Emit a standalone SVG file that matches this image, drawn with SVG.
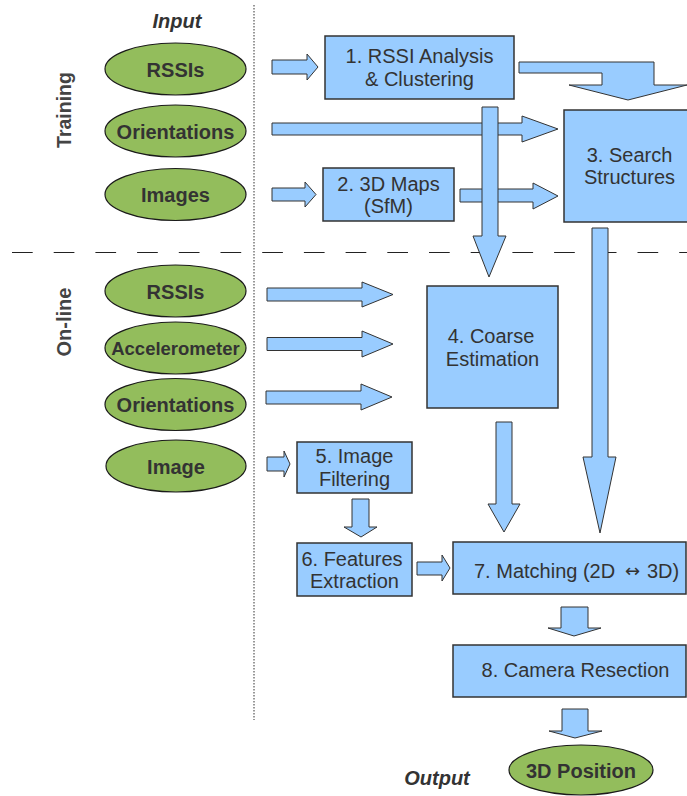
<svg xmlns="http://www.w3.org/2000/svg" width="687" height="796" viewBox="0 0 687 796">
  <style>
    .box { fill: #99ccff; stroke: #333333; stroke-width: 1.5; }
    .arr { fill: #99ccff; stroke: #333333; stroke-width: 1; stroke-linejoin: miter; }
    .ell { fill: #93bd5c; stroke: #1a1a1a; stroke-width: 1.2; }
    .lbl { font-family: "Liberation Sans", Arial, sans-serif; font-size: 20px; fill: #333333; text-anchor: middle; }
    .in { font-family: "Liberation Sans", Arial, sans-serif; font-size: 20px; font-weight: bold; fill: #333333; text-anchor: middle; }
    .hdr { font-family: "Liberation Sans", Arial, sans-serif; font-size: 20px; font-weight: bold; font-style: italic; fill: #333333; text-anchor: middle; }
    .side { font-family: "Liberation Sans", Arial, sans-serif; font-size: 20px; font-weight: bold; fill: #444444; text-anchor: middle; }
  </style>

  <rect width="687" height="796" fill="#ffffff"/>

  <!-- section separators -->
  <g id="separators">
    <line x1="254" y1="5" x2="254" y2="720" stroke="#777777" stroke-width="1.5" stroke-dasharray="1.5,1.5"/>
    <line x1="12" y1="252.5" x2="687" y2="252.5" stroke="#222222" stroke-width="1.2" stroke-dasharray="20.7,21"/>
  </g>

  <!-- headings -->
  <g id="headings">
    <text class="hdr" x="177" y="28">Input</text>
    <text class="hdr" x="437" y="785">Output</text>
    <text class="side" transform="translate(71,110) rotate(-90)" style="font-size:19.5px">Training</text>
    <text class="side" transform="translate(71,322) rotate(-90)">On-line</text>
  </g>

  <!-- connectors -->
  <g id="connectors">
    <path class="arr" d="M272,60 H307 V54 L318,67 L307,80 V74 H272 Z"/>
    <path class="arr" d="M272,123 H522 V116 L558,129 L522,142 V135 H272 Z"/>
    <path class="arr" d="M272,188 H305 V182 L316,194.5 L305,207 V201 H272 Z"/>
    <path class="arr" d="M460,189 H533 V183 L558,196 L533,209 V202 H460 Z"/>
    <path class="arr" d="M519,62 H654 V85 H687 L628,100 L569,85 H602 V73 H519 Z"/>
    <path class="arr" d="M482,107 H498 V236 H506 L489,277 L473,236 H482 Z"/>
    <path class="arr" d="M592,228 H608 V457 H616 L600,533 L583,457 H592 Z"/>
    <path class="arr" d="M267,288 H362 V282 L393,294.5 L362,307 V301 H267 Z"/>
    <path class="arr" d="M267,337.5 H362 V331 L393,344 L362,357 V350.5 H267 Z"/>
    <path class="arr" d="M266,391 H361 V384 L392,397 L361,410 V404 H266 Z"/>
    <path class="arr" d="M267,457 H284 V451 L290,464 L284,477 V471 H267 Z"/>
    <path class="arr" d="M352,499 H369 V527 H377 L361,537 L344,527 H352 Z"/>
    <path class="arr" d="M496,422 H512 V504 H520 L504,532 L488,504 H496 Z"/>
    <path class="arr" d="M417,562 H442 V555 L450,568 L442,581 V575 H417 Z"/>
    <path class="arr" d="M561,607 H588 V628 H601 L574,636 L548,628 H561 Z"/>
    <path class="arr" d="M562,709 H588 V731 H602 L575,738 L549,731 H562 Z"/>
  </g>

  <!-- training inputs -->
  <g id="in-rssis-train">
    <ellipse class="ell" cx="175.5" cy="69" rx="70.5" ry="26"/>
    <text class="in" x="175.5" y="76.5">RSSIs</text>
  </g>
  <g id="in-orient-train">
    <ellipse class="ell" cx="175.5" cy="131" rx="70.5" ry="26"/>
    <text class="in" x="175.5" y="138.5">Orientations</text>
  </g>
  <g id="in-images">
    <ellipse class="ell" cx="175.5" cy="194.5" rx="70.5" ry="26"/>
    <text class="in" x="175.5" y="202">Images</text>
  </g>

  <!-- on-line inputs -->
  <g id="in-rssis-online">
    <ellipse class="ell" cx="175.5" cy="291" rx="70.5" ry="26"/>
    <text class="in" x="175.5" y="298.5">RSSIs</text>
  </g>
  <g id="in-accel">
    <ellipse class="ell" cx="175.5" cy="348" rx="70.5" ry="26"/>
    <text class="in" x="175.5" y="355" style="font-size:18.5px">Accelerometer</text>
  </g>
  <g id="in-orient-online">
    <ellipse class="ell" cx="175.5" cy="404.5" rx="70.5" ry="26"/>
    <text class="in" x="175.5" y="412">Orientations</text>
  </g>
  <g id="in-image">
    <ellipse class="ell" cx="176" cy="466" rx="70" ry="26"/>
    <text class="in" x="176" y="473.5">Image</text>
  </g>

  <!-- processing steps -->
  <g id="step1">
    <rect class="box" x="325" y="36" width="189" height="63"/>
    <text class="lbl" x="419.5" y="63">1. RSSI Analysis</text>
    <text class="lbl" x="419.5" y="86">&amp; Clustering</text>
  </g>
  <g id="step2">
    <rect class="box" x="323" y="168" width="131" height="53"/>
    <text class="lbl" x="388.5" y="191">2. 3D Maps</text>
    <text class="lbl" x="388.5" y="213">(SfM)</text>
  </g>
  <g id="step3">
    <rect class="box" x="564" y="110" width="130" height="112"/>
    <text class="lbl" x="629.5" y="162">3. Search</text>
    <text class="lbl" x="629.5" y="184">Structures</text>
  </g>
  <g id="step4">
    <rect class="box" x="427" y="286" width="131" height="122"/>
    <text class="lbl" x="491" y="343">4. Coarse</text>
    <text class="lbl" x="492.5" y="366">Estimation</text>
  </g>
  <g id="step5">
    <rect class="box" x="297" y="442" width="115" height="51"/>
    <text class="lbl" x="354.5" y="463">5. Image</text>
    <text class="lbl" x="354.5" y="486">Filtering</text>
  </g>
  <g id="step6">
    <rect class="box" x="297" y="543" width="115" height="53"/>
    <text class="lbl" x="352" y="566">6. Features</text>
    <text class="lbl" x="354.5" y="588">Extraction</text>
  </g>
  <g id="step7">
    <rect class="box" x="453" y="542" width="233" height="52"/>
    <text class="lbl" x="474" y="578" style="text-anchor:start">7. Matching (2D<tspan x="625" y="577" style="font-family:'DejaVu Sans',sans-serif;font-size:18px">↔</tspan><tspan x="647" y="578">3D)</tspan></text>
  </g>
  <g id="step8">
    <rect class="box" x="453" y="645" width="233" height="52"/>
    <text class="lbl" x="575.5" y="677">8. Camera Resection</text>
  </g>

  <!-- output -->
  <g id="out-position">
    <ellipse class="ell" cx="581" cy="770" rx="72" ry="25"/>
    <text class="in" x="581" y="778">3D Position</text>
  </g>
</svg>
